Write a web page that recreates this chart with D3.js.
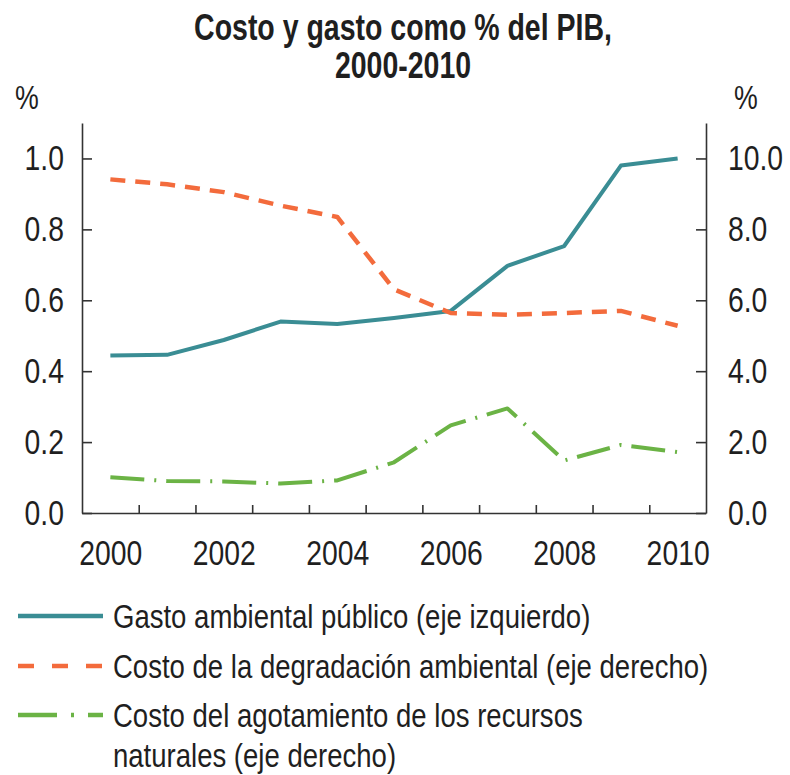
<!DOCTYPE html>
<html>
<head>
<meta charset="utf-8">
<script src="https://cdn.jsdelivr.net/npm/d3@7"></script>
<style>
  body { margin: 0; background: #fff; }
  svg text { font-family: "Liberation Sans", Arial, sans-serif; fill: #1f1f1f; }
</style>
</head>
<body>
<div id="chart"></div>
<script>
// data
let years = [2000, 2001, 2002, 2003, 2004, 2005, 2006, 2007, 2008, 2009, 2010];
let gastoPublico = [0.444, 0.446, 0.488, 0.540, 0.533, 0.550, 0.570, 0.697, 0.753, 0.980, 1.000];
let costoDegradacion = [9.41, 9.27, 9.05, 8.67, 8.35, 6.31, 5.64, 5.59, 5.64, 5.70, 5.28];
let costoAgotamiento = [1.01, 0.90, 0.89, 0.83, 0.92, 1.43, 2.47, 2.95, 1.48, 1.92, 1.72];
let yearLabels = [2000, 2002, 2004, 2006, 2008, 2010];
let leftTicks = [0, 0.2, 0.4, 0.6, 0.8, 1.0];
let rightTicks = [0, 2, 4, 6, 8, 10];
let titleLines = ["Costo y gasto como % del PIB,", "2000-2010"];
let legendLabels = [
  ["Gasto ambiental público (eje izquierdo)"],
  ["Costo de la degradación ambiental (eje derecho)"],
  ["Costo del agotamiento de los recursos", "naturales (eje derecho)"]
];

let svgWidth = 790;
let svgHeight = 775;
let margin = { top: 123, left: 82, right: 84, bottom: 262 };
let width = svgWidth - margin.left - margin.right;
let height = svgHeight - margin.top - margin.bottom;

let teal = "#3a8d94";
let orange = "#f36b3c";
let green = "#6bb345";
let axisColor = "#333";

// the original uses a condensed face, so squeeze text horizontally
let squeeze = 0.81;
let titleSqueeze = 0.77;

function condense(sel, sx) {
  sel.each(function() {
    let t = d3.select(this);
    t.attr("x", (+t.attr("x") || 0) / sx)
      .attr("transform", `scale(${sx}, 1)`);
  });
}

let svg = d3.select("#chart")
  .append("svg")
  .attr("width", svgWidth)
  .attr("height", svgHeight);

let chartGroup = svg.append("g")
  .attr("transform", `translate(${margin.left}, ${margin.top})`);

// scales
let xScale = d3.scaleLinear()
  .domain([years[0] - 0.5, years[years.length - 1] + 0.5])
  .range([0, width]);

let yLeft = d3.scaleLinear().domain([0, 1.1]).range([height, 0]);
let yRight = d3.scaleLinear().domain([0, 11]).range([height, 0]);

// axes
let xTickAxis = d3.axisBottom(xScale)
  .tickValues(years.slice(1).map(y => y - 0.5))
  .tickSizeInner(-8)
  .tickSizeOuter(0)
  .tickFormat("");

let xLabelAxis = d3.axisBottom(xScale)
  .tickValues(yearLabels)
  .tickSize(0)
  .tickPadding(27)
  .tickFormat(d3.format("d"));

let leftAxis = d3.axisLeft(yLeft)
  .tickValues(leftTicks)
  .tickSizeInner(-10)
  .tickSizeOuter(0)
  .tickPadding(18)
  .tickFormat(d3.format(".1f"));

let rightAxis = d3.axisRight(yRight)
  .tickValues(rightTicks)
  .tickSizeInner(-10)
  .tickSizeOuter(0)
  .tickPadding(22)
  .tickFormat(d3.format(".1f"));

let xg = chartGroup.append("g")
  .attr("transform", `translate(0, ${height})`)
  .call(xTickAxis);

let xl = chartGroup.append("g")
  .attr("transform", `translate(0, ${height})`)
  .call(xLabelAxis);
xl.select(".domain").remove();

let lg = chartGroup.append("g").call(leftAxis);
let rg = chartGroup.append("g")
  .attr("transform", `translate(${width}, 0)`)
  .call(rightAxis);

[xg, lg, rg].forEach(g => {
  g.select(".domain").attr("stroke", axisColor).attr("stroke-width", 1.6);
  g.selectAll(".tick line").attr("stroke", axisColor).attr("stroke-width", 1.6);
});

[xl, lg, rg].forEach(g => {
  g.attr("font-family", null).attr("font-size", null);
  let labels = g.selectAll(".tick text")
    .attr("font-size", "35px")
    .attr("fill", "#1f1f1f");
  condense(labels, squeeze);
});

// lines
let series = [
  { values: gastoPublico, y: yLeft, color: teal, dash: null, width: 4 },
  { values: costoDegradacion, y: yRight, color: orange, dash: "15,10", width: 4.5 },
  { values: costoAgotamiento, y: yRight, color: green, dash: "34,10,2,10", width: 4 }
];

series.forEach(s => {
  let line = d3.line()
    .x((d, i) => xScale(years[i]))
    .y(d => s.y(d));

  chartGroup.append("path")
    .datum(s.values)
    .attr("fill", "none")
    .attr("stroke", s.color)
    .attr("stroke-width", s.width)
    .attr("stroke-dasharray", s.dash)
    .attr("stroke-linejoin", "round")
    .attr("d", line);
});

// title
let title = svg.append("g").selectAll("text")
  .data(titleLines)
  .enter()
  .append("text")
  .attr("x", 403)
  .attr("y", (d, i) => 40 + i * 38)
  .attr("text-anchor", "middle")
  .attr("font-size", "37px")
  .attr("font-weight", "bold")
  .text(d => d);
condense(title, titleSqueeze);

// unit labels
let units = svg.append("g").selectAll("text")
  .data([27, 746])
  .enter()
  .append("text")
  .attr("x", d => d)
  .attr("y", 109)
  .attr("text-anchor", "middle")
  .attr("font-size", "33px")
  .text("%");
condense(units, squeeze);

// legend
let legendItems = [
  { color: teal, dash: null, y: 616 },
  { color: orange, dash: "16,18", y: 666 },
  { color: green, dash: "39,14,3,14", y: 715 }
];

let legend = svg.append("g");
legendItems.forEach((item, i) => {
  legend.append("line")
    .attr("x1", 18).attr("x2", 103)
    .attr("y1", item.y).attr("y2", item.y)
    .attr("stroke", item.color)
    .attr("stroke-width", 4.5)
    .attr("stroke-dasharray", item.dash);

  let labels = legend.append("g").selectAll("text")
    .data(legendLabels[i])
    .enter()
    .append("text")
    .attr("x", 113)
    .attr("y", (d, j) => item.y + 12 + j * 40)
    .attr("font-size", "34px")
    .text(d => d);
  condense(labels, squeeze);
});
</script>
</body>
</html>
